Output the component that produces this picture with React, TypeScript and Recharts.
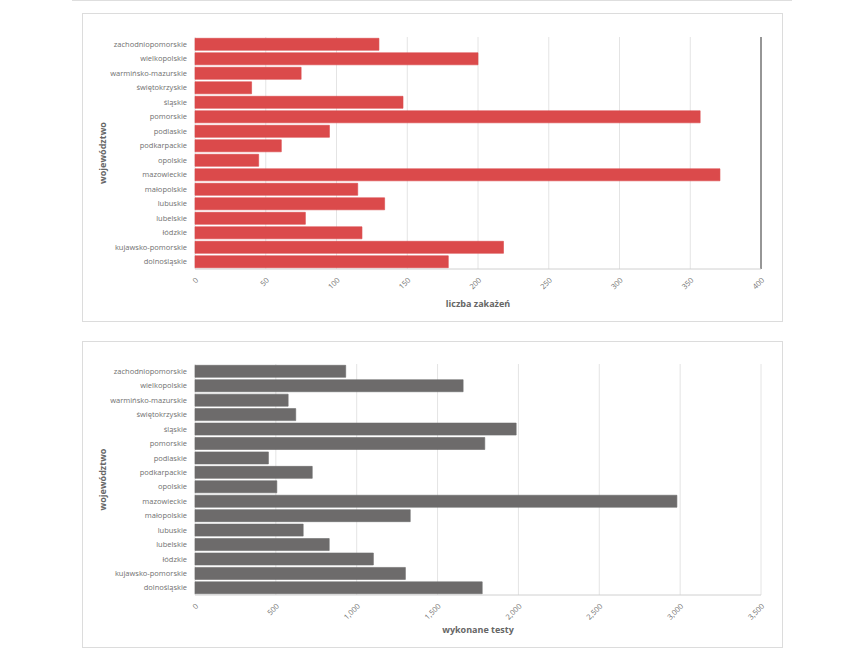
import React from 'react';
import { BarChart, Bar, XAxis, YAxis, CartesianGrid, ReferenceLine } from 'recharts';

const regions = [
  'zachodniopomorskie',
  'wielkopolskie',
  'warmińsko-mazurskie',
  'świętokrzyskie',
  'śląskie',
  'pomorskie',
  'podlaskie',
  'podkarpackie',
  'opolskie',
  'mazowieckie',
  'małopolskie',
  'lubuskie',
  'lubelskie',
  'łódzkie',
  'kujawsko-pomorskie',
  'dolnośląskie',
];

const infections = [130, 200, 75, 40, 147, 357, 95, 61, 45, 371, 115, 134, 78, 118, 218, 179];
const tests = [932, 1658, 576, 623, 1986, 1792, 454, 725, 506, 2980, 1331, 669, 830, 1103, 1301, 1776];

const infectionTicks = [0, 50, 100, 150, 200, 250, 300, 350, 400];
const testTicks = [0, 500, 1000, 1500, 2000, 2500, 3000, 3500];

const infectionData = regions.map((name, i) => ({ name, value: infections[i] }));
const testData = regions.map((name, i) => ({ name, value: tests[i] }));

const font = '"Open Sans", sans-serif';
const tickStyle = { fontSize: 7.5, fill: '#707070', fontFamily: font };
const titleStyle = { fontSize: 9, fill: '#666', fontWeight: 700, fontFamily: font };

const boxStyle: React.CSSProperties = {
  position: 'absolute',
  left: 82,
  width: 701,
  border: '1px solid #dcdcdc',
  boxSizing: 'border-box',
  background: '#fff',
};

const Panel = ({
  data,
  ticks,
  max,
  color,
  xLabel,
  height,
  top,
  marginTop,
  darkEdge,
}: {
  data: { name: string; value: number }[];
  ticks: number[];
  max: number;
  color: string;
  xLabel: string;
  height: number;
  top: number;
  marginTop: number;
  darkEdge?: boolean;
}) => (
  <div style={{ ...boxStyle, top, height }}>
    <BarChart
      width={699}
      height={height - 2}
      data={data}
      layout="vertical"
      barCategoryGap="9%"
      margin={{ top: marginTop, right: 21, left: 10, bottom: 14 }}
    >
      <CartesianGrid horizontal={false} stroke="#e4e4e4" />
      <XAxis
        type="number"
        domain={[0, max]}
        ticks={ticks}
        interval={0}
        height={38}
        angle={-45}
        textAnchor="end"
        tickLine={false}
        axisLine={{ stroke: '#d0d0d0' }}
        tick={tickStyle}
        tickFormatter={(v: number) => v.toLocaleString('en-US')}
        label={{ value: xLabel, position: 'insideBottom', offset: 0, style: titleStyle }}
      />
      <YAxis
        type="category"
        dataKey="name"
        width={102}
        interval={0}
        tickLine={false}
        axisLine={false}
        tick={tickStyle}
        label={{
          value: 'województwo',
          angle: -90,
          position: 'insideLeft',
          offset: 10,
          style: { ...titleStyle, textAnchor: 'middle' },
        }}
      />
      {darkEdge && <ReferenceLine x={max} stroke="#777" strokeWidth={1.5} />}
      <Bar dataKey="value" fill={color} stroke={color} strokeOpacity={0.6} isAnimationActive={false} />
    </BarChart>
  </div>
);

const App = () => (
  <div style={{ position: 'absolute', left: 0, top: 0, width: 852, height: 666, background: '#fff' }}>
    <div style={{ position: 'absolute', left: 72, top: 0, width: 720, height: 1, background: '#dedede' }} />
    <Panel
      data={infectionData}
      ticks={infectionTicks}
      max={400}
      color="#db4a4b"
      xLabel="liczba zakażeń"
      top={13}
      height={309}
      marginTop={23}
      darkEdge
    />
    <Panel
      data={testData}
      ticks={testTicks}
      max={3500}
      color="#6d6b6b"
      xLabel="wykonane testy"
      top={341}
      height={307}
      marginTop={22}
    />
  </div>
);

export default App;
